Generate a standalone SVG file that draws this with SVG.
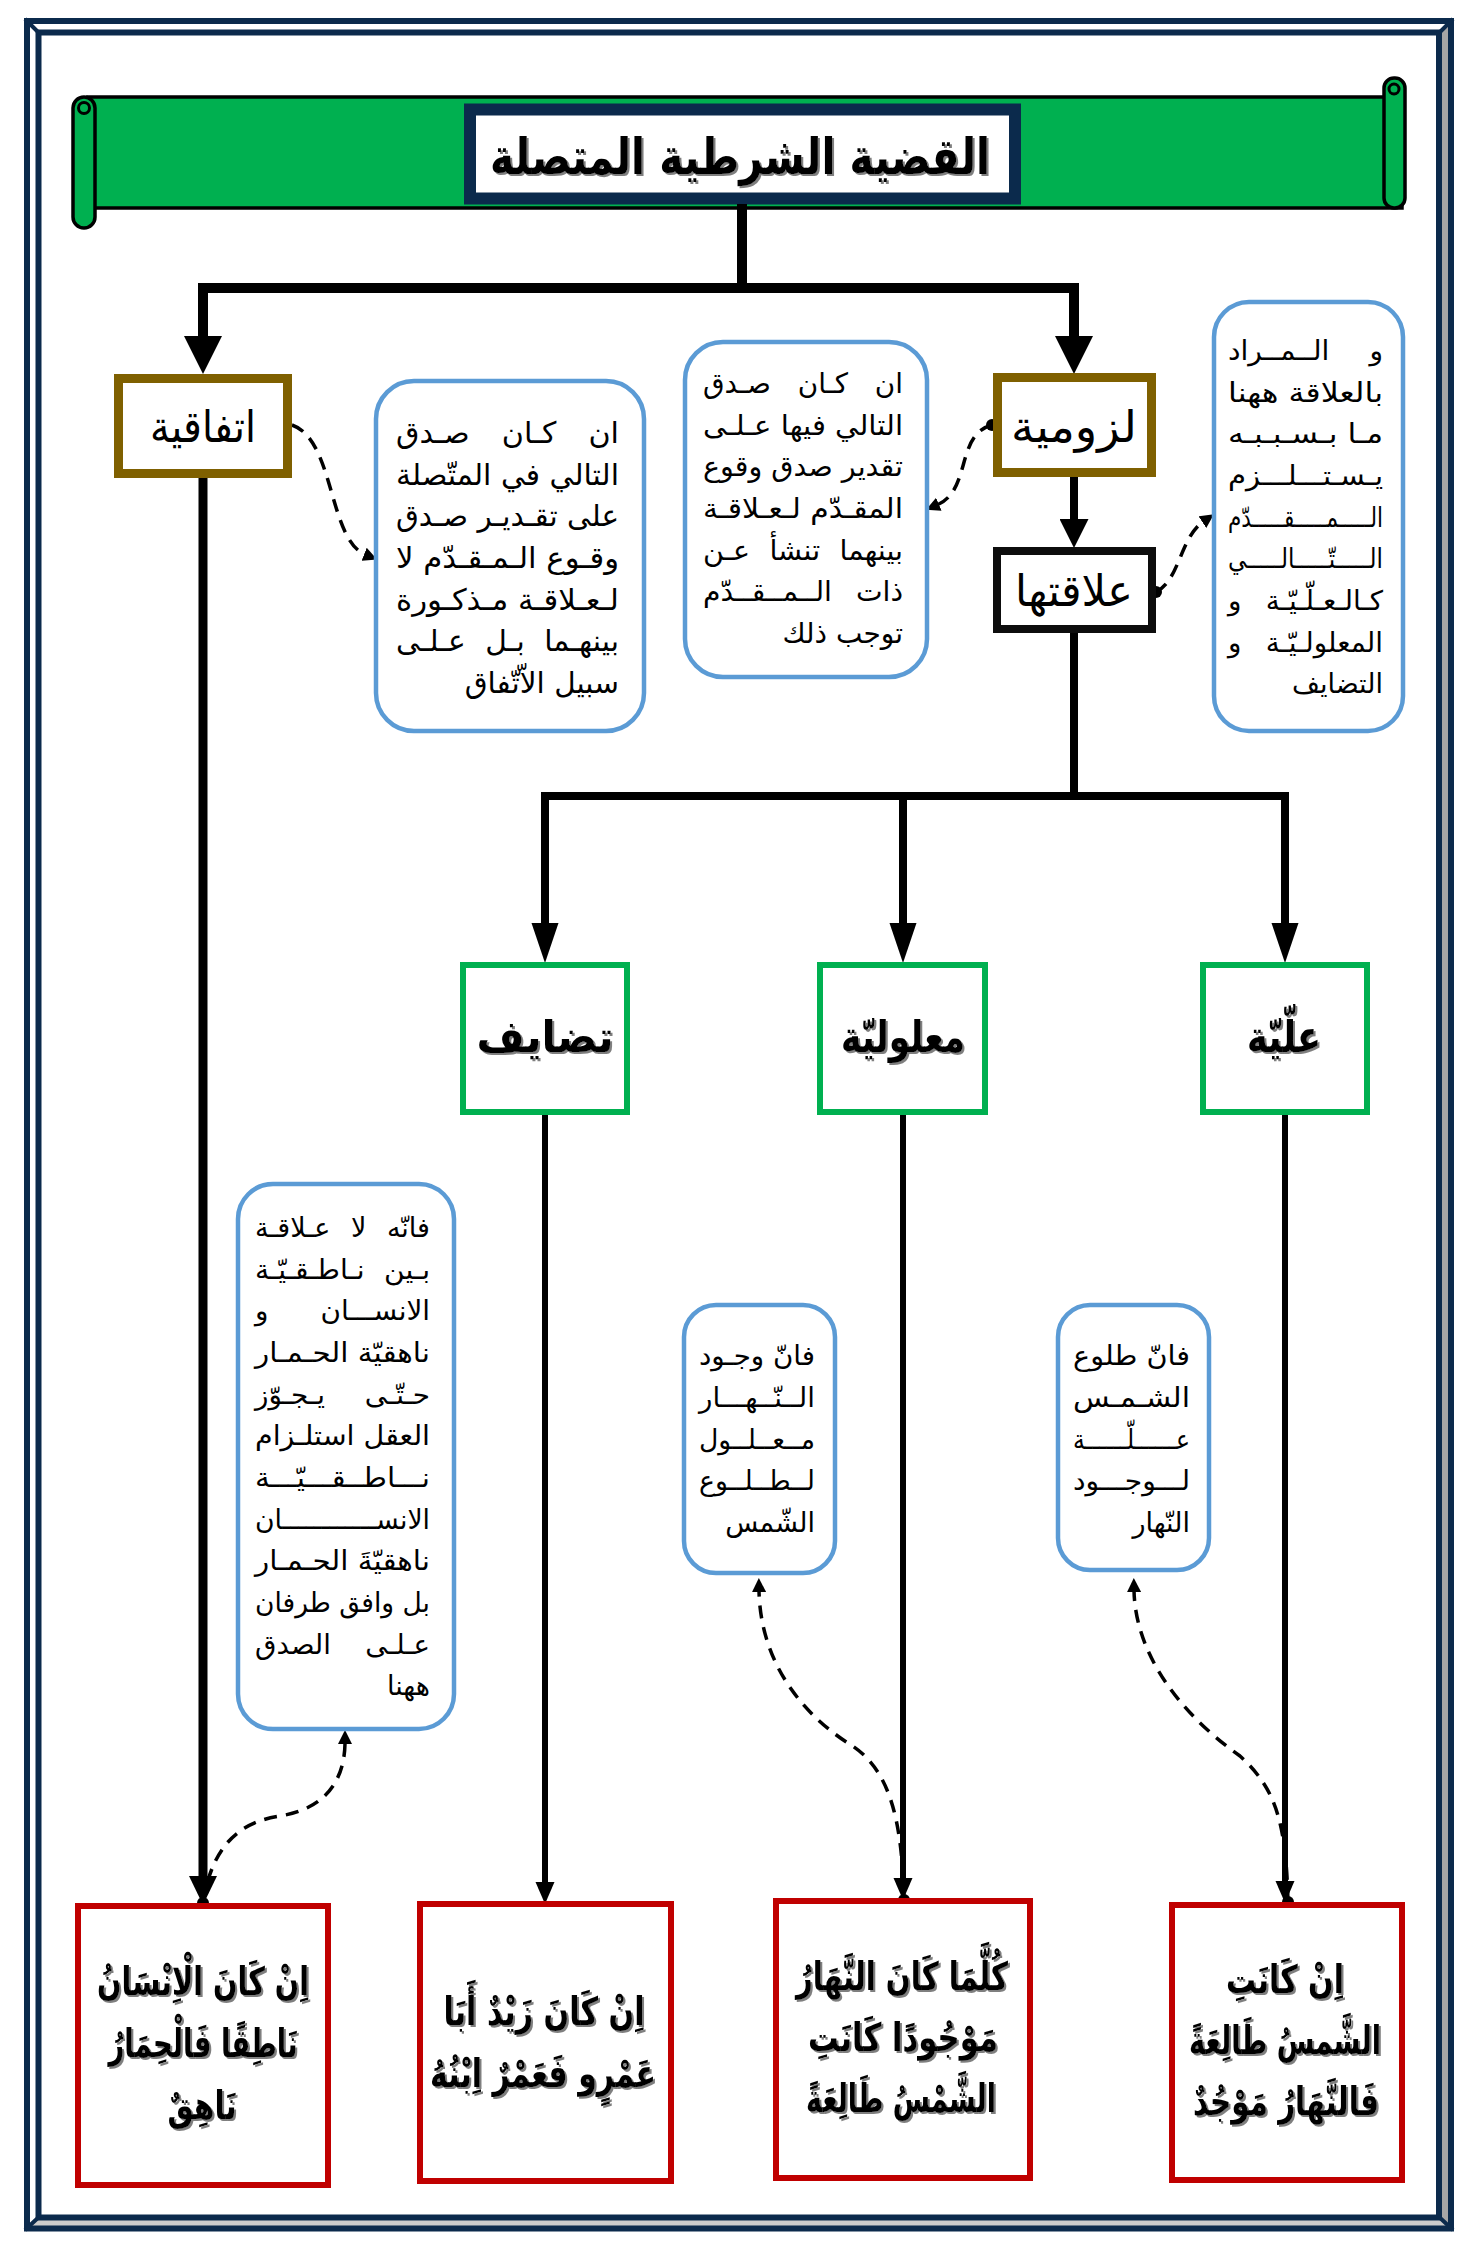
<svg xmlns="http://www.w3.org/2000/svg" width="1477" height="2258" viewBox="0 0 1477 2258">
<style>
.frame{fill:none;stroke:#0b2a4c;stroke-width:6}
.roll{fill:#00b050;stroke:#000;stroke-width:3.5}
.brown{fill:#fff;stroke:#7f6000;stroke-width:9}
.blk{fill:#fff;stroke:#0d0d0d;stroke-width:8}
.green{fill:#fff;stroke:#00b050;stroke-width:6}
.red{fill:#fff;stroke:#c00000;stroke-width:6}
.call{fill:#fff;stroke:#5b9bd5;stroke-width:4.5}
.ct{font-family:"DejaVu Sans",sans-serif;font-size:27px;fill:#000;text-anchor:end}
.ct1{font-size:29.5px}
.ct2{font-size:28px}
.lbl{font-family:"DejaVu Sans",sans-serif;font-size:44px;fill:#000;text-anchor:middle}
.glbl{font-family:"DejaVu Sans",sans-serif;font-size:44px;font-weight:bold;fill:#000;text-anchor:middle}
.ex{font-family:"DejaVu Sans",sans-serif;font-size:39px;font-weight:bold;fill:#000;text-anchor:middle}
.ttl{font-family:"DejaVu Sans",sans-serif;font-size:50px;font-weight:bold;fill:#000;text-anchor:middle}
.c10{fill:none;stroke:#000;stroke-width:10}
.c8{fill:none;stroke:#000;stroke-width:8}
.c6{fill:none;stroke:#000;stroke-width:6}
.c9{fill:none;stroke:#000;stroke-width:9}
.dash{fill:none;stroke:#000;stroke-width:3.5;stroke-dasharray:13 9}
</style>
<defs>
<filter id="sh" x="-10%" y="-20%" width="120%" height="140%">
<feDropShadow dx="2" dy="2" stdDeviation="0.3" flood-color="#7f7f7f" flood-opacity="1"/>
</filter>
<marker id="aL" markerUnits="userSpaceOnUse" markerWidth="38" markerHeight="38" viewBox="0 0 37 37" refX="0" refY="18.5" orient="auto-start-reverse"><path d="M0 0 L37 18.5 L0 37 z" fill="#000"/></marker>
<marker id="aM" markerUnits="userSpaceOnUse" markerWidth="29" markerHeight="29" viewBox="0 0 28 28" refX="0" refY="14" orient="auto"><path d="M0 0 L28 14 L0 28 z" fill="#000"/></marker>
<marker id="aS" markerUnits="userSpaceOnUse" markerWidth="40" markerHeight="28" viewBox="0 0 40 27" refX="0" refY="13.5" orient="auto"><path d="M0 0 L40 13.5 L0 27 z" fill="#000"/></marker>
<marker id="aT" markerUnits="userSpaceOnUse" markerWidth="22" markerHeight="20" viewBox="0 0 22 19" refX="0" refY="9.5" orient="auto"><path d="M0 0 L22 9.5 L0 19 z" fill="#000"/></marker>
<marker id="aK" markerUnits="userSpaceOnUse" markerWidth="29" markerHeight="28" viewBox="0 0 28 27" refX="0" refY="13.5" orient="auto"><path d="M0 0 L28 13.5 L0 27 z" fill="#000"/></marker>
<marker id="aD" markerUnits="userSpaceOnUse" markerWidth="14" markerHeight="14" viewBox="0 0 14 14" refX="2" refY="7" orient="auto"><path d="M0 0 L14 7 L0 14 z" fill="#000"/></marker>
<marker id="dot" markerUnits="userSpaceOnUse" markerWidth="14" markerHeight="14" viewBox="0 0 14 14" refX="7" refY="7"><circle cx="7" cy="7" r="6" fill="#000"/></marker>
</defs>
<rect width="1477" height="2258" fill="#fff"/>
<g id="frame">
<polygon points="1451,21 1439,32.5 1439,2217.5 1451,2228.5" fill="#a6a6a6"/>
<polygon points="27,2228.5 38.5,2217.5 1439,2217.5 1451,2228.5" fill="#cccccc"/>
<rect class="frame" x="27" y="21" width="1424" height="2207.5"/>
<rect class="frame" x="38.5" y="32.5" width="1400.5" height="2185" stroke-width="5.5"/>
<path d="M25 19 L40 34 M1453 19 L1438 34 M25 2230 L40 2216 M1453 2230 L1438 2216" stroke="#0b2a4c" stroke-width="4" fill="none"/>
</g>
<g id="banner">
<rect class="roll" x="88" y="97" width="1314" height="111"/>
<rect class="roll" x="1384" y="78" width="21" height="130" rx="10"/>
<circle cx="1394" cy="89" r="5" fill="none" stroke="#000" stroke-width="3"/>
<rect class="roll" x="73" y="97" width="22" height="131" rx="11"/>
<circle cx="84" cy="108" r="5.5" fill="none" stroke="#000" stroke-width="3"/>
</g>
<g id="title">
<rect x="470" y="109.5" width="545" height="89" fill="#fff" stroke="#0b2a4c" stroke-width="12"/>
<text class="ttl" x="740" y="174" textLength="500" lengthAdjust="spacingAndGlyphs" filter="url(#sh)">القضية الشرطية المتصلة</text>
</g>
<g id="connectors">
<path class="c10" d="M742 204 V288"/>
<path class="c10" d="M203 336 V288 H1074 V336" marker-start="url(#aL)" marker-end="url(#aL)"/>
<path class="c8" d="M1074 477 V519" marker-end="url(#aM)"/>
<path class="c8" d="M1074 633 V796"/>
<path class="c8" d="M545 923 V796 H1285 V923" marker-end="url(#aS)"/>
<path class="c8" d="M545 900 V923" marker-end="url(#aS)"/>
<path class="c8" d="M903 796 V923" marker-end="url(#aS)"/>
<path class="c9" d="M203 478 V1876" marker-end="url(#aK)"/>
<path class="c6" d="M545 1115 V1882" marker-end="url(#aT)"/>
<path class="c6" d="M903 1115 V1878" marker-end="url(#aT)"/>
<path class="c6" d="M1285 1115 V1881" marker-end="url(#aT)"/>
<path class="dash" d="M292 425 C335 440, 328 540, 366 555" marker-end="url(#aD)"/>
<path class="dash" d="M992 425 C955 435, 972 490, 937 505" marker-start="url(#dot)" marker-end="url(#aD)"/>
<path class="dash" d="M1156 592 C1180 580, 1180 537, 1204 521" marker-start="url(#dot)" marker-end="url(#aD)"/>
<path class="dash" d="M203 1903 C212 1845, 240 1822, 280 1816 C330 1808, 345 1775, 345 1742" marker-start="url(#dot)" marker-end="url(#aD)"/>
<path class="dash" d="M904 1900 C902 1820, 890 1770, 851 1745 C800 1713, 760 1660, 759 1590" marker-start="url(#dot)" marker-end="url(#aD)"/>
<path class="dash" d="M1288 1902 C1286 1820, 1275 1788, 1240 1756 C1175 1710, 1135 1650, 1134 1590" marker-start="url(#dot)" marker-end="url(#aD)"/>
</g>
<g id="n-ittifaqiya">
<rect class="brown" x="118.5" y="378.5" width="169" height="95"/>
<text class="lbl" x="203" y="442" textLength="106" lengthAdjust="spacingAndGlyphs">اتفاقية</text>
</g>
<g id="n-luzumiya">
<rect class="brown" x="997.5" y="377.5" width="154" height="95"/>
<text class="lbl" x="1074" y="442" textLength="126" lengthAdjust="spacingAndGlyphs">لزومية</text>
</g>
<g id="n-alaqatuha">
<rect class="blk" x="997" y="551" width="155" height="78"/>
<text class="lbl" x="1074" y="606" textLength="118" lengthAdjust="spacingAndGlyphs">علاقتها</text>
</g>
<g id="c-ittifaqiya">
<rect class="call" x="376" y="381" width="268" height="350" rx="38"/>
<text class="ct ct1" x="619" y="443" textLength="223" lengthAdjust="spacingAndGlyphs" style="word-spacing:22px">ان كـان صـدق</text>
<text class="ct ct1" x="619" y="485" textLength="223" lengthAdjust="spacingAndGlyphs">التالي في المتّصلة</text>
<text class="ct ct1" x="619" y="526" textLength="223" lengthAdjust="spacingAndGlyphs">على تقـديـر صـدق</text>
<text class="ct ct1" x="619" y="568" textLength="223" lengthAdjust="spacingAndGlyphs">وقـوع الـمـقـدّم لا</text>
<text class="ct ct1" x="619" y="610" textLength="223" lengthAdjust="spacingAndGlyphs">لـعـلاقـة مـذكـورة</text>
<text class="ct ct1" x="619" y="651" textLength="223" lengthAdjust="spacingAndGlyphs" style="word-spacing:10px">بينهـما بـل عـلـى</text>
<text class="ct ct1" x="619" y="693">سبيل الاّتّفاق</text>
</g>
<g id="c-luzumiya">
<rect class="call" x="685" y="342" width="242" height="335" rx="38"/>
<text class="ct ct2" x="903" y="393" textLength="200" lengthAdjust="spacingAndGlyphs" style="word-spacing:18px">ان كـان صـدق</text>
<text class="ct ct2" x="903" y="435" textLength="200" lengthAdjust="spacingAndGlyphs">التالي فيها عـلـى</text>
<text class="ct ct2" x="903" y="476" textLength="200" lengthAdjust="spacingAndGlyphs">تقدير صدق وقوع</text>
<text class="ct ct2" x="903" y="518" textLength="200" lengthAdjust="spacingAndGlyphs">المقـدّم لـعـلاقـة</text>
<text class="ct ct2" x="903" y="560" textLength="200" lengthAdjust="spacingAndGlyphs" style="word-spacing:10px">بينهما تنشأ عـن</text>
<text class="ct ct2" x="903" y="601" textLength="200" lengthAdjust="spacingAndGlyphs" style="word-spacing:15px">ذات الــمــقــدّم</text>
<text class="ct ct2" x="903" y="643">توجب ذلك</text>
</g>
<g id="c-alaqa">
<rect class="call" x="1214" y="302" width="189" height="429" rx="35"/>
<text class="ct" x="1383" y="360" textLength="155" lengthAdjust="spacingAndGlyphs" style="word-spacing:30px">و الــمــراد</text>
<text class="ct" x="1383" y="402" textLength="155" lengthAdjust="spacingAndGlyphs">بالعلاقة ههنا</text>
<text class="ct" x="1383" y="443" textLength="155" lengthAdjust="spacingAndGlyphs">مـا بـسـبـبـه</text>
<text class="ct" x="1383" y="485" textLength="155" lengthAdjust="spacingAndGlyphs">يـسـتـــلـــزم</text>
<text class="ct" x="1383" y="527" textLength="155" lengthAdjust="spacingAndGlyphs">الـــــمـــــقـــــدّم</text>
<text class="ct" x="1383" y="568" textLength="155" lengthAdjust="spacingAndGlyphs">الـــــتّـــــالـــــي</text>
<text class="ct" x="1383" y="610" textLength="155" lengthAdjust="spacingAndGlyphs" style="word-spacing:15px">كـالـعـلّـيّـة و</text>
<text class="ct" x="1383" y="652" textLength="155" lengthAdjust="spacingAndGlyphs" style="word-spacing:15px">المعلولـيّـة و</text>
<text class="ct" x="1383" y="693">التضايف</text>
</g>
<g id="n-tadayuf">
<rect class="green" x="463" y="965" width="164" height="147"/>
<text class="glbl" x="545" y="1052" textLength="137" lengthAdjust="spacingAndGlyphs" filter="url(#sh)">تضايف</text>
</g>
<g id="n-malouliya">
<rect class="green" x="820" y="965" width="165" height="147"/>
<text class="glbl" x="903" y="1052" textLength="124" lengthAdjust="spacingAndGlyphs" filter="url(#sh)">معلوليّة</text>
</g>
<g id="n-illiya">
<rect class="green" x="1203" y="965" width="164" height="147"/>
<text class="glbl" x="1284" y="1052" textLength="74" lengthAdjust="spacingAndGlyphs" filter="url(#sh)">علّيّة</text>
</g>
<g id="c-ittifaq-ex">
<rect class="call" x="238" y="1184" width="216" height="545" rx="35"/>
<text class="ct" x="430" y="1237" textLength="175" lengthAdjust="spacingAndGlyphs" style="word-spacing:12px">فانّه لا عـلاقـة</text>
<text class="ct" x="430" y="1279" textLength="175" lengthAdjust="spacingAndGlyphs" style="word-spacing:10px">بـين نـاطـقـيّـة</text>
<text class="ct" x="430" y="1320" textLength="175" lengthAdjust="spacingAndGlyphs" style="word-spacing:42px">الانســـان و</text>
<text class="ct" x="430" y="1362" textLength="175" lengthAdjust="spacingAndGlyphs">ناهقيّة الحـمـار</text>
<text class="ct" x="430" y="1404" textLength="175" lengthAdjust="spacingAndGlyphs" style="word-spacing:30px">حـتّـى يـجـوّز</text>
<text class="ct" x="430" y="1445" textLength="175" lengthAdjust="spacingAndGlyphs">العقل استلـزام</text>
<text class="ct" x="430" y="1487" textLength="175" lengthAdjust="spacingAndGlyphs">نـــاطــقـــيّـــة</text>
<text class="ct" x="430" y="1529" textLength="175" lengthAdjust="spacingAndGlyphs">الانســــــــــــان</text>
<text class="ct" x="430" y="1570" textLength="175" lengthAdjust="spacingAndGlyphs">ناهقيّةَ الحـمـار</text>
<text class="ct" x="430" y="1612" textLength="175" lengthAdjust="spacingAndGlyphs">بل وافق طرفان</text>
<text class="ct" x="430" y="1654" textLength="175" lengthAdjust="spacingAndGlyphs" style="word-spacing:25px">عـلـى الصدق</text>
<text class="ct" x="430" y="1695">ههنا</text>
</g>
<g id="c-malouliya">
<rect class="call" x="684" y="1305" width="151" height="268" rx="32"/>
<text class="ct" x="815" y="1365" textLength="116" lengthAdjust="spacingAndGlyphs">فانّ وجـود</text>
<text class="ct" x="815" y="1407" textLength="116" lengthAdjust="spacingAndGlyphs">الــنّــهـــار</text>
<text class="ct" x="815" y="1449" textLength="116" lengthAdjust="spacingAndGlyphs">مــعــلــول</text>
<text class="ct" x="815" y="1490" textLength="116" lengthAdjust="spacingAndGlyphs">لــطــلــوع</text>
<text class="ct" x="815" y="1532">الشّمس</text>
</g>
<g id="c-illiya">
<rect class="call" x="1058" y="1305" width="151" height="265" rx="32"/>
<text class="ct" x="1190" y="1365" textLength="117" lengthAdjust="spacingAndGlyphs">فانّ طلوع</text>
<text class="ct" x="1190" y="1407" textLength="117" lengthAdjust="spacingAndGlyphs">الشـمـس</text>
<text class="ct" x="1190" y="1449" textLength="117" lengthAdjust="spacingAndGlyphs">عــــــلّــــــة</text>
<text class="ct" x="1190" y="1490" textLength="117" lengthAdjust="spacingAndGlyphs">لـــوجـــود</text>
<text class="ct" x="1190" y="1532">النّهار</text>
</g>
<g id="ex-ittifaqiya">
<rect class="red" x="78" y="1906" width="250" height="279"/>
<text class="ex" x="203" y="1995" textLength="212" lengthAdjust="spacingAndGlyphs" filter="url(#sh)">اِنْ كَانَ الْاِنْسَانُ</text>
<text class="ex" x="203" y="2057" textLength="189" lengthAdjust="spacingAndGlyphs" filter="url(#sh)">نَاطِقًا فَالْحِمَارُ</text>
<text class="ex" x="202" y="2119" textLength="69" lengthAdjust="spacingAndGlyphs" filter="url(#sh)">نَاهِقٌ</text>
</g>
<g id="ex-tadayuf">
<rect class="red" x="420" y="1904" width="251" height="277"/>
<text class="ex" x="544" y="2025" textLength="201" lengthAdjust="spacingAndGlyphs" filter="url(#sh)">اِنْ كَانَ زَيْدٌ أَبَا</text>
<text class="ex" x="543" y="2087" textLength="226" lengthAdjust="spacingAndGlyphs" filter="url(#sh)">عَمْرٍو فَعَمْرٌ اِبْنُهُ</text>
</g>
<g id="ex-malouliya">
<rect class="red" x="776" y="1901" width="254" height="277"/>
<text class="ex" x="902" y="1990" textLength="212" lengthAdjust="spacingAndGlyphs" filter="url(#sh)">كُلَّمَا كَانَ النَّهَارُ</text>
<text class="ex" x="903" y="2051" textLength="190" lengthAdjust="spacingAndGlyphs" filter="url(#sh)">مَوْجُودًا كَانَتِ</text>
<text class="ex" x="901" y="2112" textLength="190" lengthAdjust="spacingAndGlyphs" filter="url(#sh)">الشَّمْسُ طَالِعَةً</text>
</g>
<g id="ex-illiya">
<rect class="red" x="1172" y="1905" width="230" height="275"/>
<text class="ex" x="1285" y="1993" textLength="118" lengthAdjust="spacingAndGlyphs" filter="url(#sh)">اِنْ كَانَتِ</text>
<text class="ex" x="1285" y="2054" textLength="192" lengthAdjust="spacingAndGlyphs" filter="url(#sh)">الشَّمسُ طَالِعَةً</text>
<text class="ex" x="1286" y="2115" textLength="186" lengthAdjust="spacingAndGlyphs" filter="url(#sh)">فَالنَّهَارُ مَوْجُدٌ</text>
</g>
</svg>
